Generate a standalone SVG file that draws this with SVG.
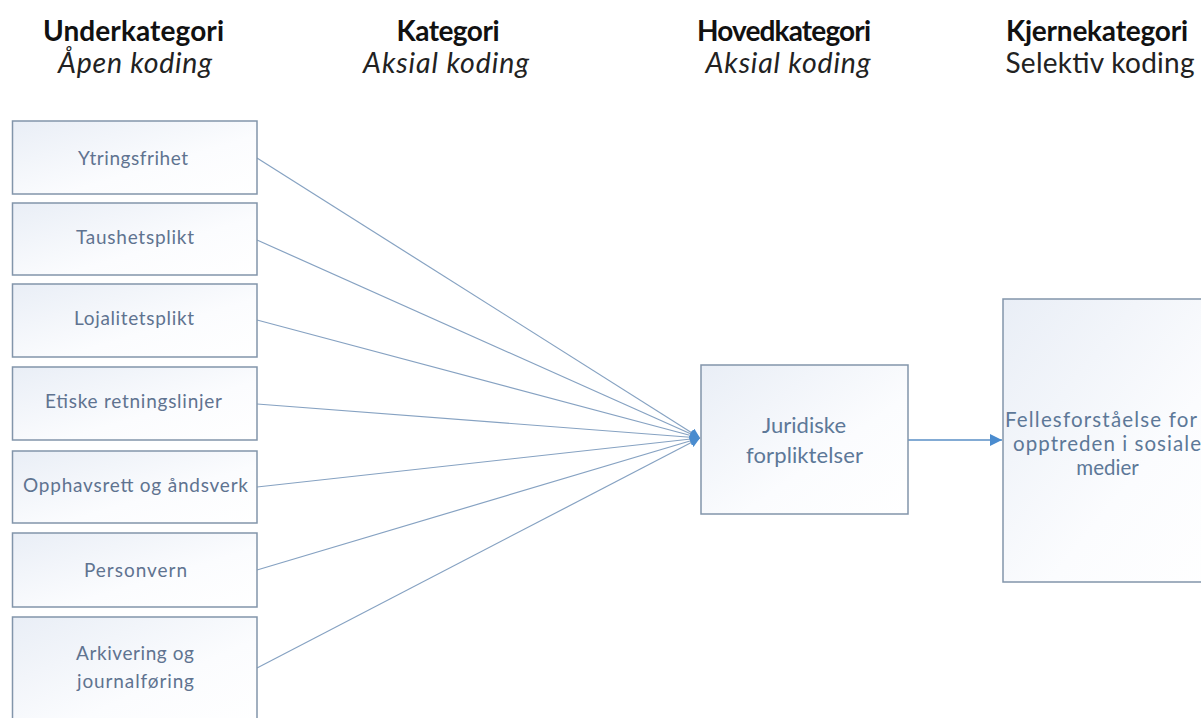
<svg xmlns="http://www.w3.org/2000/svg" width="1201" height="718" viewBox="0 0 1201 718">
<defs>
<linearGradient id="bg" x1="0" y1="0" x2="1" y2="1">
<stop offset="0" stop-color="#e9eef6"/>
<stop offset="0.6" stop-color="#fbfcfe"/>
<stop offset="1" stop-color="#ffffff"/>
</linearGradient>
<marker id="arr" viewBox="0 0 10 10" refX="10" refY="5" markerWidth="10" markerHeight="10" markerUnits="userSpaceOnUse" orient="auto">
<path d="M0,0 L10,5 L0,10 z" fill="#4a8ccf"/>
</marker>
<marker id="arr2" viewBox="0 0 10 10" refX="10" refY="5" markerWidth="12" markerHeight="12" markerUnits="userSpaceOnUse" orient="auto">
<path d="M0,0 L10,5 L0,10 z" fill="#4a8ccf"/>
</marker>
</defs>
<style>
.hd{font-family:Lato,"Liberation Sans",sans-serif;font-weight:bold;font-size:28px;fill:#111;text-anchor:middle}
.sub{font-family:Lato,"Liberation Sans",sans-serif;font-style:italic;font-size:28.5px;fill:#222;text-anchor:middle}
.subn{font-family:Lato,"Liberation Sans",sans-serif;font-size:28px;fill:#222;text-anchor:middle}
.box{fill:url(#bg);stroke:#8295aa;stroke-width:1.5}
.lt{font-family:Lato,"Liberation Sans",sans-serif;font-size:19px;fill:#5f7390;text-anchor:middle}
.mt{font-family:Lato,"Liberation Sans",sans-serif;font-size:22px;fill:#5d7898;text-anchor:middle}
.rt{font-family:Lato,"Liberation Sans",sans-serif;font-size:20.5px;fill:#5d7898;text-anchor:middle}
.ln{stroke:#86a2c2;stroke-width:1.2;fill:none}
.ln2{stroke:#5a8fc6;stroke-width:1.4;fill:none}
</style>
<g id="headers">
<text class="hd" x="133.5" y="41" textLength="181">Underkategori</text>
<text class="sub" x="135" y="73" textLength="154">Åpen koding</text>
<text class="hd" x="448" y="41" textLength="103">Kategori</text>
<text class="sub" x="446" y="73" textLength="166">Aksial koding</text>
<text class="hd" x="784" y="41" textLength="174">Hovedkategori</text>
<text class="sub" x="788" y="73" textLength="165">Aksial koding</text>
<text class="hd" x="1097" y="41" textLength="182">Kjernekategori</text>
<text class="subn" x="1100" y="73" textLength="189">Selektiv koding</text>
</g>
<g id="connectors">
<line class="ln" x1="257" y1="158" x2="700" y2="438" marker-end="url(#arr)"/>
<line class="ln" x1="257" y1="240" x2="700" y2="438" marker-end="url(#arr)"/>
<line class="ln" x1="257" y1="320" x2="700" y2="438" marker-end="url(#arr)"/>
<line class="ln" x1="257" y1="404" x2="700" y2="438" marker-end="url(#arr)"/>
<line class="ln" x1="257" y1="487" x2="700" y2="438" marker-end="url(#arr)"/>
<line class="ln" x1="257" y1="570" x2="700" y2="438" marker-end="url(#arr)"/>
<line class="ln" x1="257" y1="668" x2="700" y2="438" marker-end="url(#arr)"/>
<line class="ln2" x1="908" y1="440" x2="1002" y2="440" marker-end="url(#arr2)"/>
</g>
<g id="n1"><rect class="box" x="12.5" y="121" width="244.5" height="73"/><text class="lt" x="133" y="165" textLength="110">Ytringsfrihet</text></g>
<g id="n2"><rect class="box" x="12.5" y="203" width="244.5" height="72"/><text class="lt" x="135" y="244" textLength="118">Taushetsplikt</text></g>
<g id="n3"><rect class="box" x="12.5" y="284" width="244.5" height="73"/><text class="lt" x="134" y="325" textLength="120">Lojalitetsplikt</text></g>
<g id="n4"><rect class="box" x="12.5" y="367" width="244.5" height="73"/><text class="lt" x="133.5" y="408" textLength="177">Etiske retningslinjer</text></g>
<g id="n5"><rect class="box" x="12.5" y="451" width="244.5" height="72"/><text class="lt" x="135.5" y="492" textLength="225">Opphavsrett og åndsverk</text></g>
<g id="n6"><rect class="box" x="12.5" y="533" width="244.5" height="74"/><text class="lt" x="135.5" y="577" textLength="103">Personvern</text></g>
<g id="n7"><rect class="box" x="12.5" y="617" width="244.5" height="110"/><text class="lt" x="135" y="660" textLength="118">Arkivering og</text><text class="lt" x="135.5" y="688" textLength="117">journalføring</text></g>
<g id="n8"><rect class="box" x="701" y="365" width="207" height="149"/><text class="mt" x="804" y="433" textLength="84">Juridiske</text><text class="mt" x="804.5" y="463" textLength="117">forpliktelser</text></g>
<g id="n9"><rect class="box" x="1003" y="299" width="230" height="283"/><text class="rt" x="1101" y="427" textLength="192">Fellesforståelse for</text><text class="rt" x="1107" y="451" textLength="188">opptreden i sosiale</text><text class="rt" x="1107.5" y="475">medier</text></g>
</svg>
